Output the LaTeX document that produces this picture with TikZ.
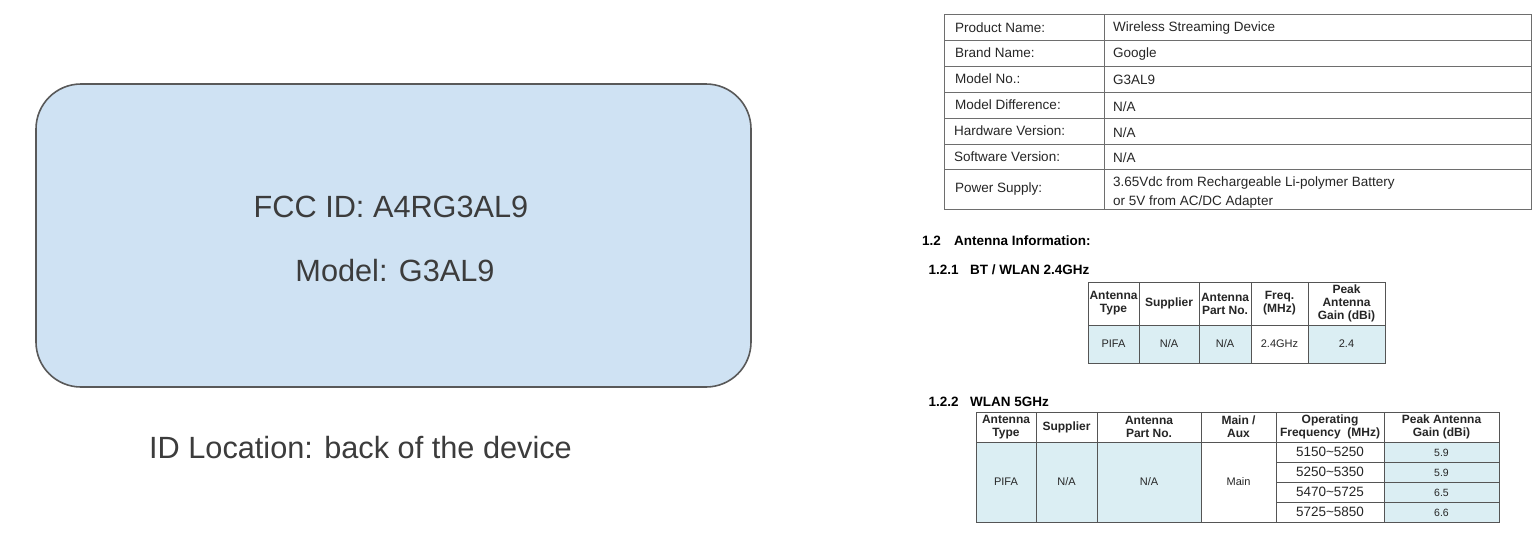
\documentclass[tikz,border=0pt]{standalone}
\usepackage{fontspec}
\setmainfont{Liberation Sans}
\definecolor{boxfill}{HTML}{CFE2F3}
\definecolor{boxline}{HTML}{595959}
\definecolor{bigtxt}{HTML}{3C3C3C}
\definecolor{cellblue}{HTML}{DBEEF3}
\definecolor{gridc}{HTML}{555555}
\definecolor{tabtxt}{HTML}{262626}
\begin{document}
\begin{tikzpicture}[x=1pt,y=-1pt,
  bigtext/.style={text=bigtxt,font=\fontsize{30.7}{37}\selectfont,inner sep=0pt},
  tlabel/.style={anchor=west,text=tabtxt,font=\fontsize{13.5}{15}\selectfont,inner sep=0pt},
  heading/.style={anchor=base west,text=black,font=\bfseries\fontsize{13.5}{15}\selectfont,inner sep=0pt},
  hcell/.style={align=center,text=tabtxt,font=\bfseries\fontsize{12}{13}\selectfont,inner sep=0pt},
  bcell/.style={align=center,text=tabtxt,font=\fontsize{11}{12}\selectfont,inner sep=0pt},
  gcell/.style={align=center,text=tabtxt,font=\fontsize{10.5}{12}\selectfont,inner sep=0pt},
  fcell/.style={align=center,text=tabtxt,font=\fontsize{13.5}{15}\selectfont,inner sep=0pt},
  gridline/.style={draw=gridc,line width=1pt},
  tgrid/.style={draw=gridc!85,line width=0.9pt}]
\useasboundingbox (0,0) rectangle (1538,554);
\fill[white] (0,0) rectangle (1538,554);

% ---- left label box ----
\draw[fill=boxfill,draw=boxline,line width=1.6pt,rounded corners=45pt] (36,84) rectangle (751,387);
\node[bigtext] (fcc) at (391,207) {FCC ID: A4RG3AL9};
\node[bigtext] (model) at (395,271) {Model: G3AL9};
\node[bigtext] (loc) at (360.5,448) {ID Location: back of the device};

% ---- product table ----
\foreach \ya/\yb in {14/40,40/66,66/92,92/118,118/144,144/169,169/209}{
  \draw[tgrid] (944,\ya) rectangle (1104,\yb);
  \draw[tgrid] (1104,\ya) rectangle (1531,\yb);
}
\node[tlabel] (pn) at (955,27.5) {Product Name:};
\node[tlabel] (pnv) at (1113,28) {Wireless Streaming Device};
\node[tlabel] (bn) at (955,53) {Brand Name:};
\node[tlabel] (bnv) at (1113,54) {Google};
\node[tlabel] (mn) at (955,79) {Model No.:};
\node[tlabel] (mnv) at (1113,80) {G3AL9};
\node[tlabel] (md) at (955,105) {Model Difference:};
\node[tlabel] (mdv) at (1113,107) {N/A};
\node[tlabel] (hv) at (954,131) {Hardware Version:};
\node[tlabel] (hvv) at (1113,133) {N/A};
\node[tlabel] (sv) at (954,156.5) {Software Version:};
\node[tlabel] (svv) at (1113,158) {N/A};
\node[tlabel] (ps) at (955,189.5) {Power Supply:};
\node[tlabel] (psv1) at (1113,183) {3.65Vdc from Rechargeable Li-polymer Battery};
\node[tlabel] (psv2) at (1113,202) {or 5V from AC/DC Adapter};

% ---- headings ----
\node[heading] (h12n) at (922,245.5) {1.2};
\node[heading] (h12) at (954,245.5) {Antenna Information:};
\node[heading] (h121n) at (928.5,274.5) {1.2.1};
\node[heading] (h121) at (970,274.5) {BT / WLAN 2.4GHz};
\node[heading] (h122n) at (928.5,406.5) {1.2.2};
\node[heading] (h122) at (970,406.5) {WLAN 5GHz};

% ---- 2.4 GHz table ----
\fill[cellblue] (1088,325) rectangle (1251,363);
\fill[cellblue] (1308,325) rectangle (1385,363);
\foreach \xa/\xb in {1088/1139,1139/1199,1199/1251,1251/1308,1308/1385}{
  \draw[gridline] (\xa,282) rectangle (\xb,325);
  \draw[gridline] (\xa,325) rectangle (\xb,363);
}
\node[hcell] (a1) at (1113.5,303.5) {Antenna\\Type};
\node[hcell] (a2) at (1169,303.5) {Supplier};
\node[hcell] (a3) at (1225,303.5) {Antenna\\Part No.};
\node[hcell] (a4) at (1279.5,303.5) {Freq.\\(MHz)};
\node[hcell] (a5) at (1346.5,303.5) {Peak\\Antenna\\Gain (dBi)};
\node[bcell] (b1) at (1113.5,344) {PIFA};
\node[bcell] (b2) at (1169,344) {N/A};
\node[bcell] (b3) at (1225,344) {N/A};
\node[bcell] (b4) at (1279.5,344) {2.4GHz};
\node[bcell] (b5) at (1346.5,344) {2.4};

% ---- 5 GHz table ----
\fill[cellblue] (976,442) rectangle (1201,522);
\fill[cellblue] (1384,442) rectangle (1499,522);
\foreach \xa/\xb in {976/1036,1036/1097,1097/1201,1201/1276,1276/1384,1384/1499}{
  \draw[gridline] (\xa,412) rectangle (\xb,442);
}
\foreach \xa/\xb in {976/1036,1036/1097,1097/1201,1201/1276}{
  \draw[gridline] (\xa,442) rectangle (\xb,522);
}
\foreach \ya/\yb in {442/462,462/482,482/502,502/522}{
  \draw[gridline] (1276,\ya) rectangle (1384,\yb);
  \draw[gridline] (1384,\ya) rectangle (1499,\yb);
}
\node[hcell] (c1) at (1006,427) {Antenna\\Type};
\node[hcell] (c2) at (1066.5,427) {Supplier};
\node[hcell] (c3) at (1149,427) {Antenna\\Part No.};
\node[hcell] (c4) at (1238.5,427) {Main /\\Aux};
\node[hcell] (c5) at (1330,427) {Operating\\Frequency\ \ (MHz)};
\node[hcell] (c6) at (1441.5,427) {Peak Antenna\\Gain (dBi)};
\node[bcell] (d1) at (1006,482) {PIFA};
\node[bcell] (d2) at (1066.5,482) {N/A};
\node[bcell] (d3) at (1149,482) {N/A};
\node[bcell] (d4) at (1238.5,482) {Main};
\node[fcell] (f1) at (1330,452) {5150\textasciitilde5250};
\node[fcell] (f2) at (1330,472) {5250\textasciitilde5350};
\node[fcell] (f3) at (1330,492) {5470\textasciitilde5725};
\node[fcell] (f4) at (1330,512) {5725\textasciitilde5850};
\node[gcell] (g1) at (1441.5,452.5) {5.9};
\node[gcell] (g2) at (1441.5,472.5) {5.9};
\node[gcell] (g3) at (1441.5,492.5) {6.5};
\node[gcell] (g4) at (1441.5,512.5) {6.6};
\end{tikzpicture}
\end{document}
